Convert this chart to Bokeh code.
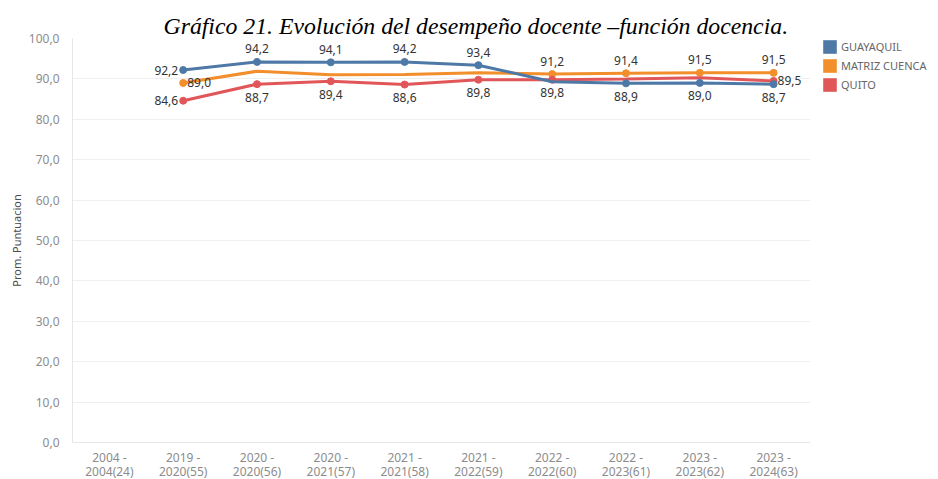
from bokeh.plotting import figure
from bokeh.layouts import row
from bokeh.models import (ColumnDataSource, Range1d, Legend, LegendItem,
                          CustomJSTickFormatter, FixedTicker)
from bokeh.core.properties import value
from bokeh.embed import file_html
from bokeh.resources import INLINE

# ---------------- data ----------------
periods = ["2004 -\n2004(24)", "2019 -\n2020(55)", "2020 -\n2020(56)", "2020 -\n2021(57)",
           "2021 -\n2021(58)", "2021 -\n2022(59)", "2022 -\n2022(60)", "2022 -\n2023(61)",
           "2023 -\n2023(62)", "2023 -\n2024(63)"]
series_periods = periods[1:]

series_names = ["GUAYAQUIL", "MATRIZ CUENCA", "QUITO"]
guayaquil = [92.2, 94.2, 94.1, 94.2, 93.4, 89.3, 88.9, 89.0, 88.7]
matriz_cuenca = [89.0, 91.9, 91.0, 91.1, 91.5, 91.2, 91.4, 91.5, 91.5]
quito = [84.6, 88.7, 89.4, 88.6, 89.8, 89.8, 90.0, 90.3, 89.5]

# which points carry a value label / marker (1 = labelled)
guayaquil_labelled = [1, 1, 1, 1, 1, 0, 1, 1, 1]
matriz_labelled = [1, 0, 0, 0, 0, 1, 1, 1, 1]
quito_labelled = [1, 1, 1, 1, 1, 1, 0, 0, 1]

y_ticks = [0, 10, 20, 30, 40, 50, 60, 70, 80, 90, 100]

# ---------------- style ----------------
colors = ["#4e79a7", "#f28e2b", "#e15759"]
guayaquil_place = ["left", "above", "above", "above", "above", None, "below", "below", "below"]
matriz_place = ["right", None, None, None, None, "above", "above", "above", "above"]
quito_place = ["left", "below", "below", "below", "below", "below", None, None, "right"]

FONT = "Noto Sans"
LEFT, TOP = 72, 37
FRAME_W, FRAME_H = 738, 404
TOTAL_H = 479

p = figure(x_range=periods, y_range=Range1d(0, 100),
           frame_width=FRAME_W, frame_height=FRAME_H,
           output_backend="svg", toolbar_location=None,
           min_border_left=LEFT, min_border_right=0, min_border_top=TOP,
           min_border_bottom=TOTAL_H - TOP - FRAME_H)
p.outline_line_color = None
p.xgrid.grid_line_color = None
p.ygrid.grid_line_color = "#efefef"
p.ygrid.grid_line_width = 1

p.title.text = "Gráfico 21. Evolución del desempeño docente –función docencia."
p.title.text_font = "Liberation Serif"
p.title.text_font_style = "italic"
p.title.text_font_size = "23.75px"
p.title.text_color = "#000000"
p.title.align = "left"
p.title.offset = 91
p.title.standoff = 0

p.yaxis.ticker = FixedTicker(ticks=y_ticks)
p.yaxis.formatter = CustomJSTickFormatter(code="return tick.toFixed(1).replace('.', ',');")
p.yaxis.major_tick_line_color = None
p.yaxis.minor_tick_line_color = None
p.yaxis.axis_line_color = "#e6e6e6"
p.yaxis.major_label_text_font = FONT
p.yaxis.major_label_text_font_size = "12px"
p.yaxis.major_label_text_color = "#8c8c8c"
p.yaxis.major_label_standoff = 7
p.yaxis.axis_label = "Prom. Puntuacion"
p.yaxis.axis_label_text_font = FONT
p.yaxis.axis_label_text_font_size = "11px"
p.yaxis.axis_label_text_font_style = "normal"
p.yaxis.axis_label_text_color = "#4d4d4d"
p.yaxis.axis_label_standoff = 2

p.xaxis.major_tick_line_color = None
p.xaxis.minor_tick_line_color = None
p.xaxis.axis_line_color = "#e6e6e6"
p.xaxis.major_label_text_font = FONT
p.xaxis.major_label_text_font_size = "12px"
p.xaxis.major_label_text_color = "#8c8c8c"
p.xaxis.major_label_standoff = 0
p.xaxis.major_label_text_line_height = 0.87

offsets = {"above": (0, -13, "center", "middle"), "below": (0, 13, "center", "middle"),
           "left": (-5, 0, "right", "middle"), "right": (4, 0, "left", "middle")}

all_series = [(matriz_cuenca, matriz_labelled, matriz_place, colors[1]),
              (quito, quito_labelled, quito_place, colors[2]),
              (guayaquil, guayaquil_labelled, guayaquil_place, colors[0])]

for vals, labelled, place, col in all_series:
    src = ColumnDataSource(dict(x=series_periods, y=vals))
    p.line("x", "y", source=src, line_color=col, line_width=3)
    mx = [x for x, l in zip(series_periods, labelled) if l]
    my = [v for v, l in zip(vals, labelled) if l]
    p.scatter(mx, my, size=7, fill_color=col, line_color=col)

for vals, labelled, place, col in all_series:
    for key, (dx, dy, align, base) in offsets.items():
        xs = [x for x, l, pl in zip(series_periods, labelled, place) if l and pl == key]
        ys = [v for v, l, pl in zip(vals, labelled, place) if l and pl == key]
        if not xs:
            continue
        txt = [f"{v:.1f}".replace(".", ",") for v in ys]
        p.text(xs, ys, text=txt, x_offset=dx, y_offset=dy, text_align=align,
               text_baseline=base, text_font=value(FONT), text_font_size="12px",
               text_color="#333333")

# ---------------- legend (separate narrow panel to the right) ----------------
lf = figure(width=938 - LEFT - FRAME_W, height=TOTAL_H, output_backend="svg",
            toolbar_location=None, x_axis_type=None, y_axis_type=None,
            min_border_left=11, min_border_top=38, min_border_right=0, min_border_bottom=0)
lf.outline_line_color = None
lf.grid.visible = False
items = []
for name, col, vals in zip(series_names, colors, [guayaquil, matriz_cuenca, quito]):
    # hidden proxy bars built from the series, used only for the legend swatch
    r = lf.vbar(x=list(range(len(vals))), top=vals, width=0.8,
                fill_color=col, line_color=None, visible=False)
    items.append(LegendItem(label=name, renderers=[r]))

legend = Legend(items=items, location="top_left", glyph_width=17, glyph_height=17,
                spacing=2, padding=0, margin=0, label_standoff=3,
                label_text_font=FONT, label_text_font_size="11px",
                label_text_color="#666666", border_line_color=None,
                background_fill_alpha=0, inactive_fill_alpha=0)
lf.add_layout(legend, "center")

layout = row(p, lf)
open("out.html", "w").write(file_html(layout, INLINE))
